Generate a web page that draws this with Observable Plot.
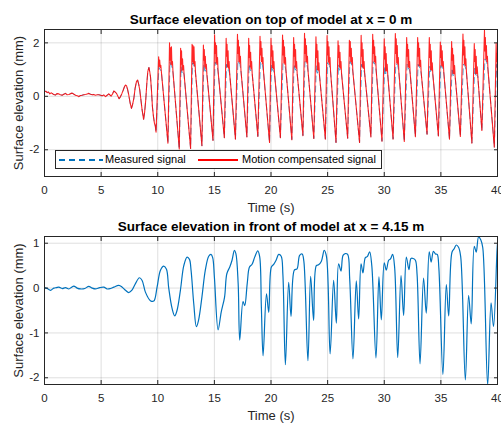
<!DOCTYPE html>
<html>
<head>
<meta charset="utf-8">
<script src="https://cdn.jsdelivr.net/npm/d3@7"></script>
<script src="https://cdn.jsdelivr.net/npm/@observablehq/plot@0.6"></script>
<style>
  body { margin: 0; background: #fff; }
  #fig { position: relative; width: 501px; height: 423px; overflow: hidden; font-family: "Liberation Sans", Arial, sans-serif; }
  #fig > svg { position: absolute; left: 0; }
  #legend { position: absolute; left: 55px; top: 150px; background: #fff; border: 1px solid #262626; box-sizing: border-box; width: 327px; height: 19px; font-size: 11px; color: #000; }
  #legend .sample { position: absolute; top: 8px; height: 1.5px; }
  #legend .name { position: absolute; top: 2px; line-height: 13px; white-space: nowrap; }
</style>
</head>
<body>
<div id="fig"></div>
<script>
// Panel titles and axis text
const topTitle = "Surface elevation on top of model at x = 0 m";
const bottomTitle = "Surface elevation in front of model at x = 4.15 m";
const timeLabel = "Time (s)";
const elevLabel = "Surface elevation (mm)";
const seriesNames = ["Measured signal", "Motion compensated signal"];

// Tick values
const timeTicks = [0, 5, 10, 15, 20, 25, 30, 35, 40];
const topElevTicks = [-2, 0, 2];
const bottomElevTicks = [-2, -1, 0, 1];

// Wave gauge on top of the model: [time (s), elevation (mm)], motion compensated
const compensated = [
  [0,0.17],[0.12,0.19],[0.24,0.14],[0.35,0.16],[0.47,0.09],[0.58,0.13],[0.68,0.11],[0.8,0.07],[0.97,0.05],[1.1,0.1],
  [1.27,0.09],[1.4,0.06],[1.56,0.04],[1.7,0.08],[1.85,0.11],[2.0,0.06],[2.15,0.07],[2.3,0.1],[2.44,0.12],[2.6,0.08],
  [2.74,0.04],[2.9,0.02],[3.03,-0.01],[3.18,0.03],[3.32,0.04],[3.47,0.06],[3.62,0.07],[3.77,0.09],[3.91,0.11],[4.06,0.08],
  [4.21,0.06],[4.35,0.07],[4.5,0.04],[4.65,0.06],[4.8,0.06],[4.95,0.04],[5.09,0.02],[5.24,0.05],[5.38,-0.01],[5.53,0.04],
  [5.68,0.09],[5.78,0.05],[5.88,0.01],[6.0,0.08],[6.12,0.2],[6.24,0.16],[6.36,0.11],[6.48,0.0],[6.59,-0.09],[6.7,-0.02],
  [6.82,0.09],[6.94,0.22],[7.06,0.36],[7.15,0.42],[7.24,0.4],[7.34,0.25],[7.44,0.05],[7.56,-0.25],[7.68,-0.45],[7.78,-0.3],
  [7.89,-0.08],[8.0,0.3],[8.12,0.55],[8.22,0.61],[8.32,0.45],[8.41,0.24],[8.52,-0.15],[8.62,-0.51],[8.75,-0.86],[8.84,-0.6],
  [8.94,-0.14],[9.03,0.45],[9.12,0.92],[9.22,1.08],[9.3,0.9],[9.36,0.73],[9.45,0.2],[9.53,-0.39],[9.62,-0.75],[9.71,-1.01],
  [9.78,-1.1],[9.85,-1.34],
  [10.08,1.48],[10.12,1.12],[10.17,1.36],[10.22,1.08],[10.27,1.16],[10.32,0.92],
  [10.9,-1.75],[11.04,2.0],[11.08,1.35],[11.12,1.82],[11.16,1.2],[11.21,1.85],[11.25,1.17],[11.3,1.3],[11.35,0.88],
  [11.9,-1.97],[12.02,1.8],[12.06,1.2],[12.1,1.7],[12.14,0.95],[12.19,1.4],[12.23,1.0],[12.28,1.15],[12.33,0.8],
  [12.9,-1.95],[13.03,1.95],[13.07,1.3],[13.11,1.9],[13.15,1.23],[13.2,1.85],[13.24,1.15],[13.29,1.3],[13.34,0.85],
  [13.9,-1.85],[14.03,1.92],[14.07,1.35],[14.11,1.75],[14.15,1.1],[14.2,1.5],[14.24,1.02],[14.29,1.2],[14.34,0.82],
  [14.88,-1.65],[15.02,2.3],[15.06,1.6],[15.1,2.0],[15.14,1.25],[15.19,1.9],[15.23,1.2],[15.28,1.45],[15.33,0.92],
  [15.88,-1.55],[16.04,2.17],[16.08,1.5],[16.12,1.95],[16.16,1.1],[16.21,1.7],[16.25,1.05],[16.3,1.3],[16.35,0.85],
  [16.86,-1.6],[17.04,2.32],[17.08,1.6],[17.12,2.1],[17.16,1.3],[17.21,1.85],[17.25,1.25],[17.3,1.5],[17.35,0.95],
  [17.87,-1.52],[18.03,2.17],[18.07,1.45],[18.11,1.9],[18.15,1.1],[18.2,1.65],[18.24,1.02],[18.29,1.3],[18.34,0.85],
  [18.84,-1.5],[19.03,2.25],[19.07,1.55],[19.11,2.05],[19.15,1.3],[19.2,1.8],[19.24,1.22],[19.29,1.45],[19.34,0.92],
  [19.87,-1.73],[20.0,2.17],[20.04,1.5],[20.08,1.9],[20.12,1.08],[20.17,1.7],[20.21,1.02],[20.26,1.3],[20.31,0.85],
  [20.83,-1.55],[21.02,2.29],[21.06,1.55],[21.1,2.1],[21.14,1.25],[21.19,1.85],[21.23,1.2],[21.28,1.45],[21.33,0.92],
  [21.84,-1.62],[22.0,2.2],[22.04,1.5],[22.08,1.95],[22.12,1.1],[22.17,1.75],[22.21,1.05],[22.26,1.3],[22.31,0.86],
  [22.82,-1.47],[22.96,2.36],[23.0,1.6],[23.04,2.15],[23.08,1.3],[23.13,1.9],[23.17,1.25],[23.22,1.5],[23.27,0.95],
  [23.78,-1.58],[23.97,2.23],[24.01,1.45],[24.05,1.95],[24.09,1.0],[24.14,1.7],[24.18,0.98],[24.23,1.25],[24.28,0.8],
  [24.8,-1.6],[24.95,2.27],[24.99,1.55],[25.03,2.05],[25.07,1.28],[25.12,1.85],[25.16,1.2],[25.21,1.45],[25.26,0.92],
  [25.74,-1.73],[25.92,2.08],[25.96,1.45],[26.0,1.9],[26.04,1.1],[26.09,1.65],[26.13,1.05],[26.18,1.3],[26.23,0.85],
  [26.77,-1.57],[26.92,2.1],[26.96,1.5],[27.0,2.05],[27.04,1.3],[27.09,1.8],[27.13,1.22],[27.18,1.45],[27.23,0.92],
  [27.82,-1.73],[27.96,2.28],[28.0,1.5],[28.04,2.0],[28.08,1.1],[28.13,1.75],[28.17,1.05],[28.22,1.3],[28.27,0.86],
  [28.82,-1.52],[28.98,2.32],[29.02,1.6],[29.06,2.1],[29.1,1.3],[29.15,1.85],[29.19,1.25],[29.24,1.5],[29.29,0.95],
  [29.8,-1.68],[30.0,2.15],[30.04,1.4],[30.08,1.85],[30.12,0.95],[30.17,1.6],[30.21,0.95],[30.26,1.2],[30.31,0.8],
  [30.78,-1.6],[30.98,2.35],[31.02,1.6],[31.06,2.15],[31.1,1.25],[31.15,1.9],[31.19,1.2],[31.24,1.45],[31.29,0.92],
  [31.77,-1.69],[31.98,2.2],[32.02,1.5],[32.06,1.95],[32.1,1.1],[32.15,1.75],[32.19,1.08],[32.24,1.3],[32.29,0.86],
  [32.75,-1.51],[32.95,2.2],[32.99,1.5],[33.03,2.0],[33.07,1.15],[33.12,1.8],[33.16,1.12],[33.21,1.35],[33.26,0.88],
  [33.78,-1.42],[33.98,2.2],[34.02,1.45],[34.06,1.95],[34.1,1.0],[34.15,1.7],[34.19,0.98],[34.24,1.25],[34.29,0.82],
  [34.78,-1.48],[34.95,2.03],[34.99,1.45],[35.03,1.9],[35.07,1.15],[35.12,1.7],[35.16,1.1],[35.21,1.3],[35.26,0.88],
  [35.76,-1.6],[35.95,2.05],[35.99,1.35],[36.03,1.8],[36.07,0.85],[36.12,1.55],[36.16,0.85],[36.21,1.15],[36.26,0.75],
  [36.72,-1.5],[36.95,2.33],[36.99,1.55],[37.03,2.1],[37.07,1.2],[37.12,1.85],[37.16,1.15],[37.21,1.4],[37.26,0.9],
  [37.74,-1.75],[37.95,1.97],[37.99,1.3],[38.03,1.75],[38.07,0.85],[38.12,1.5],[38.16,0.85],[38.21,1.1],[38.26,0.75],
  [38.62,-1.28],[38.85,2.47],[38.89,1.7],[38.93,2.2],[38.97,1.4],[39.02,1.9],[39.06,1.3],[39.11,1.5],[39.16,1.0],
  [39.72,-1.9],[39.88,1.98],[39.92,1.3],[39.96,1.6],[40.0,0.6]
];

// Same gauge, raw measured signal: [time (s), elevation (mm)]
const measured = [
  [0,0.17],[0.12,0.19],[0.24,0.14],[0.35,0.16],[0.47,0.09],[0.58,0.13],[0.68,0.11],[0.8,0.07],[0.97,0.05],[1.1,0.1],
  [1.27,0.09],[1.4,0.06],[1.56,0.04],[1.7,0.08],[1.85,0.11],[2.0,0.06],[2.15,0.07],[2.3,0.1],[2.44,0.12],[2.6,0.08],
  [2.74,0.04],[2.9,0.02],[3.03,-0.01],[3.18,0.03],[3.32,0.04],[3.47,0.06],[3.62,0.07],[3.77,0.09],[3.91,0.11],[4.06,0.08],
  [4.21,0.06],[4.35,0.07],[4.5,0.04],[4.65,0.06],[4.8,0.06],[4.95,0.04],[5.09,0.02],[5.24,0.05],[5.38,-0.01],[5.53,0.04],
  [5.68,0.09],[5.78,0.05],[5.88,0.01],[6.0,0.08],[6.12,0.2],[6.24,0.16],[6.36,0.11],[6.48,0.0],[6.59,-0.09],[6.7,-0.02],
  [6.82,0.09],[6.94,0.22],[7.06,0.36],[7.15,0.42],[7.24,0.4],[7.34,0.25],[7.44,0.05],[7.56,-0.25],[7.68,-0.45],[7.78,-0.3],
  [7.89,-0.08],[8.0,0.3],[8.12,0.55],[8.22,0.61],[8.32,0.45],[8.41,0.24],[8.52,-0.15],[8.62,-0.51],[8.75,-0.86],[8.84,-0.6],
  [8.94,-0.14],[9.03,0.45],[9.12,0.92],[9.22,1.08],[9.3,0.9],[9.36,0.73],[9.45,0.2],[9.53,-0.39],[9.62,-0.75],[9.71,-1.01],
  [9.78,-1.1],[9.85,-1.34],
  [10.1,1.08],[10.2,1.02],[10.32,0.92],
  [10.9,-1.75],[11.08,1.28],[11.16,1.15],[11.25,1.12],[11.35,0.88],
  [11.9,-1.97],[12.06,1.1],[12.14,0.88],[12.23,0.95],[12.33,0.8],
  [12.9,-1.95],[13.07,1.26],[13.15,1.18],[13.24,1.1],[13.34,0.85],
  [13.9,-1.85],[14.07,1.2],[14.15,0.96],[14.24,0.97],[14.34,0.82],
  [14.88,-1.65],[15.06,1.28],[15.14,1.2],[15.23,1.15],[15.33,0.92],
  [15.88,-1.55],[16.08,1.2],[16.16,0.98],[16.25,1.0],[16.35,0.85],
  [16.86,-1.6],[17.08,1.33],[17.16,1.25],[17.25,1.2],[17.35,0.95],
  [17.87,-1.52],[18.07,1.2],[18.15,0.98],[18.24,0.97],[18.34,0.85],
  [18.84,-1.5],[19.07,1.3],[19.15,1.25],[19.24,1.17],[19.34,0.92],
  [19.87,-1.73],[20.04,1.2],[20.12,0.98],[20.21,0.97],[20.31,0.85],
  [20.83,-1.55],[21.06,1.22],[21.14,1.2],[21.23,1.15],[21.33,0.92],
  [21.84,-1.62],[22.04,1.2],[22.12,1.0],[22.21,1.0],[22.31,0.86],
  [22.82,-1.47],[23.0,1.3],[23.08,1.25],[23.17,1.2],[23.27,0.95],
  [23.78,-1.58],[24.01,1.15],[24.09,0.86],[24.18,0.93],[24.28,0.8],
  [24.8,-1.6],[24.99,1.26],[25.07,1.22],[25.16,1.15],[25.26,0.92],
  [25.74,-1.73],[25.96,1.18],[26.04,0.98],[26.13,1.0],[26.23,0.85],
  [26.77,-1.57],[26.96,1.3],[27.04,1.25],[27.13,1.17],[27.23,0.92],
  [27.82,-1.73],[28.0,1.2],[28.08,1.0],[28.17,1.0],[28.27,0.86],
  [28.82,-1.52],[29.02,1.3],[29.1,1.25],[29.19,1.2],[29.29,0.95],
  [29.8,-1.68],[30.04,1.12],[30.12,0.84],[30.21,0.9],[30.31,0.8],
  [30.78,-1.6],[31.02,1.22],[31.1,1.2],[31.19,1.15],[31.29,0.92],
  [31.77,-1.69],[32.02,1.2],[32.1,1.05],[32.19,1.03],[32.29,0.86],
  [32.75,-1.51],[32.99,1.2],[33.07,1.1],[33.16,1.07],[33.26,0.88],
  [33.78,-1.42],[34.02,1.12],[34.1,0.92],[34.19,0.93],[34.29,0.82],
  [34.78,-1.48],[34.99,1.15],[35.07,1.1],[35.16,1.05],[35.26,0.88],
  [35.76,-1.6],[35.99,1.05],[36.07,0.78],[36.16,0.8],[36.26,0.75],
  [36.72,-1.5],[36.99,1.2],[37.07,1.15],[37.16,1.1],[37.26,0.9],
  [37.74,-1.75],[37.99,1.05],[38.07,0.8],[38.16,0.8],[38.26,0.75],
  [38.62,-1.28],[38.89,1.4],[38.97,1.35],[39.06,1.25],[39.16,1.0],
  [39.72,-1.9],[39.92,1.2],[40.0,0.6]
];

// Wave gauge in front of the model: [time (s), elevation (mm)]
const frontGauge = [
  [0,0.01],[0.24,-0.01],[0.53,-0.05],[0.82,0.0],[1.05,0.01],[1.27,0.02],[1.56,-0.01],[1.85,0.01],[2.15,-0.02],[2.4,0.02],
  [2.59,0.045],[2.88,0.0],[3.18,-0.02],[3.56,-0.01],[3.91,0.04],[4.2,0.0],[4.5,-0.02],[4.88,0.01],[5.24,0.02],[5.53,-0.02],
  [5.82,-0.01],[6.12,0.02],[6.56,0.06],[6.86,0.02],[7.15,-0.05],[7.44,-0.1],[7.74,-0.04],[8.03,0.1],[8.38,0.23],[8.62,0.17],
  [8.91,-0.09],[9.35,-0.28],[9.65,-0.29],[9.94,0.02],[10.24,0.4],[10.53,0.49],[10.77,0.42],[10.97,0.0],[11.27,-0.46],[11.5,-0.62],
  [11.7,-0.5],[12.0,-0.05],[12.3,0.5],[12.59,0.69],[12.8,0.64],[12.94,0.4],[13.18,-0.35],[13.41,-0.86],[13.6,-0.72],[13.9,-0.2],
  [14.2,0.4],[14.5,0.71],[14.7,0.75],[14.85,0.68],[15.0,0.25],[15.33,-0.93],[15.6,-0.54],[15.9,-0.2],[16.1,0.32],[16.36,0.47],
  [16.56,0.62],[16.77,0.84],[16.9,0.77],[17.1,0.1],[17.24,-1.16],[17.53,-0.3],[17.68,-0.39],[17.9,0.1],[18.1,0.47],[18.33,0.53],
  [18.56,0.69],[18.83,0.83],[19.0,0.7],[19.15,-0.43],[19.3,-1.51],[19.6,-0.13],[19.8,-0.54],[20.03,0.47],[20.24,0.53],[20.45,0.62],
  [20.68,0.75],[20.9,0.71],[21.05,0.3],[21.27,-1.71],[21.56,0.13],[21.77,-0.63],[22.06,0.4],[22.3,0.43],[22.53,0.73],[22.75,0.76],
  [22.9,0.6],[23.26,-1.62],[23.5,0.26],[23.76,-0.72],[24.0,0.5],[24.2,0.52],[24.45,0.6],[24.7,0.84],[24.9,0.7],[25.22,-1.47],
  [25.53,0.17],[25.77,-0.78],[25.97,0.54],[26.18,0.38],[26.36,0.73],[26.56,0.77],[26.77,0.75],[26.95,0.2],[27.24,-1.58],[27.53,0.16],
  [27.74,-0.69],[27.95,0.54],[28.12,0.34],[28.33,0.68],[28.5,0.7],[28.71,0.81],[28.9,0.5],[29.27,-1.56],[29.53,0.25],[29.74,-0.71],
  [30.0,0.56],[30.18,0.4],[30.39,0.62],[30.55,0.65],[30.74,0.75],[30.92,0.45],[31.19,-1.55],[31.48,0.28],[31.71,-0.61],[31.95,0.69],
  [32.18,0.41],[32.36,0.66],[32.55,0.66],[32.75,0.62],[32.9,0.3],[33.16,-1.69],[33.47,0.22],[33.71,-0.56],[33.97,0.81],[34.14,0.58],
  [34.34,0.82],[34.52,0.76],[34.68,0.75],[34.82,0.45],[35.18,-1.93],[35.48,0.08],[35.69,-0.62],[35.98,0.8],[36.18,0.88],[36.36,0.96],
  [36.56,0.91],[36.75,0.7],[37.16,-2.05],[37.45,-0.16],[37.68,-0.8],[37.95,0.93],[38.12,0.8],[38.33,1.14],[38.53,1.07],[38.7,0.9],
  [39.13,-2.16],[39.43,-0.33],[39.65,-0.86],[39.95,0.8],[40.0,1.0]
];

const AXIS = "#262626";
const MEASURED_COLOR = "#0072BD";
const COMPENSATED_COLOR = "#FF0000";

function panel({title, yDomain, yTicks, height, marginTop, lines}) {
  return Plot.plot({
    width: 501,
    height,
    marginTop,
    marginBottom: 39,
    marginLeft: 44,
    marginRight: 4,
    style: {fontFamily: "Liberation Sans, Arial, sans-serif", fontSize: "11.5px", color: AXIS, background: "transparent", overflow: "visible"},
    x: {domain: [0, 40], axis: null},
    y: {domain: yDomain, axis: null},
    marks: [
      Plot.gridX(timeTicks, {stroke: AXIS, strokeOpacity: 0.15}),
      Plot.gridY(yTicks, {stroke: AXIS, strokeOpacity: 0.15}),
      ...lines,
      Plot.frame({stroke: AXIS, strokeWidth: 1}),
      Plot.axisX(timeTicks, {anchor: "bottom", tickSize: -4, tickPadding: 13, label: null, tickFormat: d => String(d)}),
      Plot.axisX(timeTicks, {anchor: "top", tickSize: -4, fill: "none", label: null}),
      Plot.axisY(yTicks, {anchor: "left", tickSize: -4, tickPadding: 9, label: null, tickFormat: d => String(d)}),
      Plot.axisY(yTicks, {anchor: "right", tickSize: -4, fill: "none", label: null}),
      Plot.text([title], {text: d => d, frameAnchor: "top", lineAnchor: "middle", dy: -10, fontWeight: "bold", fontSize: 13.5, fill: "#000"}),
      Plot.text([timeLabel], {text: d => d, frameAnchor: "bottom", lineAnchor: "middle", dy: 31, fontSize: 13, fill: AXIS}),
      Plot.text([elevLabel], {text: d => d, frameAnchor: "left", textAnchor: "middle", lineAnchor: "middle", dx: -26, rotate: -90, fontSize: 13, fill: AXIS})
    ]
  });
}

const fig = document.getElementById("fig");

const topPanel = panel({
  title: topTitle,
  yDomain: [-3, 2.5],
  yTicks: topElevTicks,
  height: 215,
  marginTop: 29,
  lines: [
    Plot.line(measured, {x: d => d[0], y: d => d[1], stroke: MEASURED_COLOR, strokeWidth: 1, strokeOpacity: 0.65, strokeDasharray: "6,4", clip: true}),
    Plot.line(compensated, {x: d => d[0], y: d => d[1], stroke: COMPENSATED_COLOR, strokeWidth: 1.1, strokeOpacity: 0.85, clip: true})
  ]
});
topPanel.style.top = "0px";
fig.appendChild(topPanel);

const bottomPanel = panel({
  title: bottomTitle,
  yDomain: [-2.15, 1.15],
  yTicks: bottomElevTicks,
  height: 208,
  marginTop: 21,
  lines: [
    Plot.line(frontGauge, {x: d => d[0], y: d => d[1], stroke: MEASURED_COLOR, strokeWidth: 1.2, curve: "catmull-rom", clip: true})
  ]
});
bottomPanel.style.top = "215px";
fig.appendChild(bottomPanel);

// Legend box for the top panel: a line sample and a name for each series
const legend = d3.select(fig).append("div").attr("id", "legend");
const items = [
  {name: seriesNames[0], paint: `repeating-linear-gradient(to right, ${MEASURED_COLOR} 0 6px, transparent 6px 10px)`, x0: 3, x1: 47, tx: 49},
  {name: seriesNames[1], paint: COMPENSATED_COLOR, x0: 142, x1: 182, tx: 186}
];
for (const it of items) {
  legend.append("div").attr("class", "sample")
    .style("left", it.x0 + "px").style("width", (it.x1 - it.x0) + "px").style("background", it.paint);
  legend.append("div").attr("class", "name").style("left", it.tx + "px").text(it.name);
}
</script>
</body>
</html>
